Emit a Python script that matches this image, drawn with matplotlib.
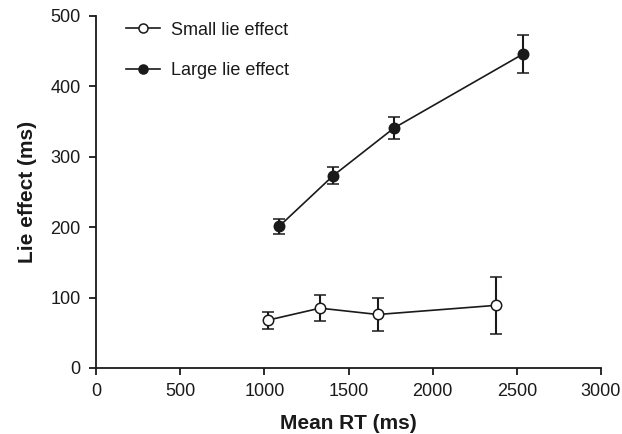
import matplotlib
matplotlib.use("Agg")
import matplotlib.pyplot as plt

plt.rcParams['font.family'] = ['Liberation Sans', 'DejaVu Sans']

small_x = [1022, 1331, 1674, 2377]
small_y = [68, 85, 76, 89]
small_err = [12, 18, 23, 40]

large_x = [1087, 1408, 1771, 2537]
large_y = [201, 273, 341, 446]
large_err = [10, 12, 16, 27]

xticks = [0, 500, 1000, 1500, 2000, 2500, 3000]
yticks = [0, 100, 200, 300, 400, 500]

fig = plt.figure(figsize=(6.22, 4.34), dpi=100)
ax = fig.add_axes([96/622, 1-368/434, (601-96)/622, (368-16)/434])

c = '#1a1a1a'
ax.errorbar(small_x, small_y, yerr=small_err, color=c, lw=1.2, marker='o',
            ms=7.5, mfc='white', mec=c, mew=1.1, capsize=4, elinewidth=1.5,
            capthick=1.3, label='Small lie effect', zorder=3)
ax.errorbar(large_x, large_y, yerr=large_err, color=c, lw=1.2, marker='o',
            ms=7.5, mfc=c, mec=c, mew=1.1, capsize=4, elinewidth=1.5,
            capthick=1.3, label='Large lie effect', zorder=3)

ax.set_xlim(0, 3000)
ax.set_ylim(0, 500)
ax.set_xticks(xticks)
ax.set_yticks(yticks)
for s in ['top', 'right']:
    ax.spines[s].set_visible(False)
for s in ['left', 'bottom']:
    ax.spines[s].set_linewidth(1.3)
    ax.spines[s].set_color(c)
ax.tick_params(direction='out', length=5, width=1.3, labelsize=13, colors=c, pad=6)
ax.set_xlabel('Mean RT (ms)', fontsize=15, fontweight='bold', labelpad=10, color=c)
ax.set_ylabel('Lie effect (ms)', fontsize=15, fontweight='bold', labelpad=10, color=c)

handles, labels = ax.get_legend_handles_labels()
handles = [h[0] for h in handles]
leg = ax.legend(handles, labels, loc='upper left', bbox_to_anchor=(0.035, 1.02),
                frameon=False, fontsize=13, labelspacing=1.32, handlelength=1.85,
                handletextpad=0.6, borderaxespad=0.3)
for h in leg.legend_handles:
    h.set_markersize(6.5)
for t in leg.get_texts():
    t.set_color(c)

fig.savefig('out.png', dpi=100)
